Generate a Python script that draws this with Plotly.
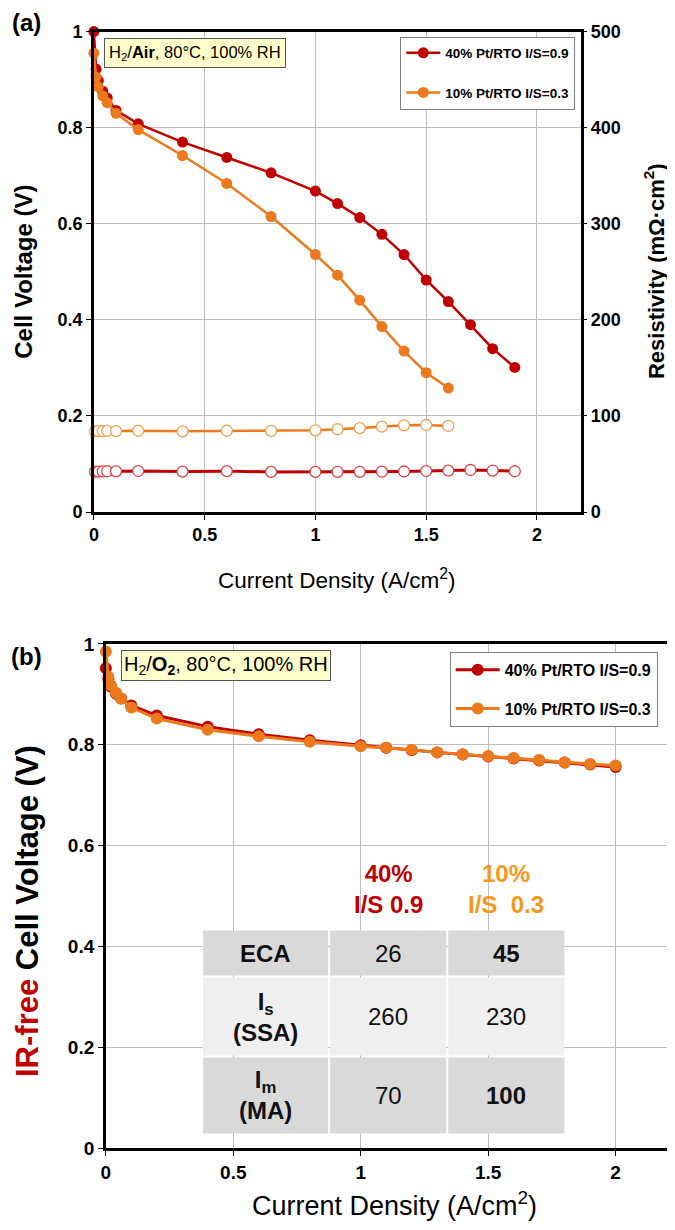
import plotly.graph_objects as go

# ---------------- data ----------------
# (a) H2/Air polarization
x_red_air = [0, 0.01, 0.02, 0.04, 0.06, 0.1, 0.2, 0.4, 0.6, 0.8, 1.0, 1.1, 1.2, 1.3, 1.4, 1.5, 1.6, 1.7, 1.8, 1.9]
v_red_air = [1.0, 0.922, 0.898, 0.876, 0.862, 0.836, 0.808, 0.770, 0.738, 0.706, 0.668, 0.642, 0.613, 0.578, 0.536, 0.483, 0.438, 0.390, 0.340, 0.301]
x_or_air = [0, 0.01, 0.02, 0.04, 0.06, 0.1, 0.2, 0.4, 0.6, 0.8, 1.0, 1.1, 1.2, 1.3, 1.4, 1.5, 1.6]
v_or_air = [0.955, 0.905, 0.885, 0.866, 0.852, 0.830, 0.796, 0.742, 0.684, 0.615, 0.536, 0.493, 0.441, 0.386, 0.335, 0.290, 0.258]

# (a) resistivity (mOhm cm2)
x_red_res = [0.005, 0.02, 0.04, 0.06, 0.1, 0.2, 0.4, 0.6, 0.8, 1.0, 1.1, 1.2, 1.3, 1.4, 1.5, 1.6, 1.7, 1.8, 1.9]
r_red = [42.0, 42.1, 42.3, 42.5, 42.4, 42.7, 42.1, 42.6, 41.8, 41.8, 41.9, 41.9, 42.0, 42.2, 42.7, 43.1, 43.8, 43.2, 42.5]
x_or_res = [0.005, 0.02, 0.04, 0.06, 0.1, 0.2, 0.4, 0.6, 0.8, 1.0, 1.1, 1.2, 1.3, 1.4, 1.5, 1.6]
r_or = [84.0, 84.2, 84.3, 84.5, 84.3, 84.6, 84.0, 84.6, 84.5, 85.1, 86.2, 87.3, 88.9, 90.3, 90.6, 89.6]

# (b) H2/O2 IR-free polarization
x_o2 = [0, 0.01, 0.02, 0.04, 0.06, 0.1, 0.2, 0.4, 0.6, 0.8, 1.0, 1.1, 1.2, 1.3, 1.4, 1.5, 1.6, 1.7, 1.8, 1.9, 2.0]
v_red_o2 = [0.952, 0.930, 0.915, 0.901, 0.892, 0.878, 0.858, 0.836, 0.821, 0.809, 0.799, 0.794, 0.789, 0.785, 0.781, 0.777, 0.773, 0.769, 0.765, 0.761, 0.756]
v_or_o2 = [0.985, 0.935, 0.918, 0.903, 0.892, 0.874, 0.852, 0.830, 0.817, 0.806, 0.797, 0.794, 0.790, 0.785, 0.781, 0.778, 0.774, 0.770, 0.765, 0.762, 0.759]

series_names = ["40% Pt/RTO I/S=0.9", "10% Pt/RTO I/S=0.3"]

# table
table_rows = ["ECA", "I<sub>s</sub><br>(SSA)", "I<sub>m</sub><br>(MA)"]
table_40 = ["26", "260", "70"]
table_10 = ["<b>45</b>", "230", "<b>100</b>"]
table_heads = ["40%<br>I/S 0.9", "10%<br>I/S  0.3"]

x_ticks = [0, 0.5, 1, 1.5, 2]
y_ticks = [0, 0.2, 0.4, 0.6, 0.8, 1.0]
r_ticks = [0, 100, 200, 300, 400, 500]

# ---------------- style ----------------
RED = "#C00000"
ORANGE = "#EB7A1E"
RED_OPEN = "#D9434A"
OR_OPEN = "#F0A050"
HEAD_OR = "#F7981D"
FONT = "Liberation Sans, Arial, sans-serif"
W, H = 675, 1230


def PX(x):
    return (x - 10.5) / W


def PY(y):
    return 1 - ((y - 16.4) / 0.984) / H


fig = go.Figure()

# ---- panel (a) ----
fig.add_trace(go.Scatter(x=x_red_air, y=v_red_air, mode="lines+markers", name=series_names[0],
                         line=dict(color=RED, width=2.5), marker=dict(color=RED, size=11),
                         cliponaxis=False,
                         xaxis="x", yaxis="y", legend="legend", legendgroup="a1"))
fig.add_trace(go.Scatter(x=x_or_air, y=v_or_air, mode="lines+markers", name=series_names[1],
                         line=dict(color=ORANGE, width=2.5), marker=dict(color=ORANGE, size=11),
                         cliponaxis=False,
                         xaxis="x", yaxis="y", legend="legend", legendgroup="a2"))
fig.add_trace(go.Scatter(x=x_red_res, y=r_red, mode="lines+markers", showlegend=False,
                         line=dict(color=RED, width=3), cliponaxis=False,
                         marker=dict(color="white", size=11, line=dict(color=RED_OPEN, width=1.3)),
                         xaxis="x", yaxis="y3"))
fig.add_trace(go.Scatter(x=x_or_res, y=r_or, mode="lines+markers", showlegend=False,
                         line=dict(color=ORANGE, width=2.5), cliponaxis=False,
                         marker=dict(color="white", size=11, line=dict(color=OR_OPEN, width=1.3)),
                         xaxis="x", yaxis="y3"))

# ---- panel (b) ----
fig.add_trace(go.Scatter(x=x_o2, y=v_red_o2, mode="lines+markers", name=series_names[0],
                         line=dict(color=RED, width=3), marker=dict(color=RED, size=12),
                         cliponaxis=False,
                         xaxis="x2", yaxis="y2", legend="legend2", legendgroup="b1"))
fig.add_trace(go.Scatter(x=x_o2, y=v_or_o2, mode="lines+markers", name=series_names[1],
                         line=dict(color=ORANGE, width=3), marker=dict(color=ORANGE, size=12),
                         cliponaxis=False,
                         xaxis="x2", yaxis="y2", legend="legend2", legendgroup="b2"))


def axis_common(fs):
    return dict(showline=True, linecolor="black", linewidth=2.5, mirror=True,
                showgrid=True, gridcolor="#BDBDBD", gridwidth=1, zeroline=False,
                ticks="outside", ticklen=5, tickwidth=1.2, tickcolor="black",
                tickfont=dict(family=FONT, size=fs, color="black", weight="bold"))


fig.update_layout(
    width=W, height=H, autosize=False,
    margin=dict(l=0, r=0, t=0, b=0),
    paper_bgcolor="white", plot_bgcolor="white",
    font=dict(family=FONT, color="black"),
    xaxis=dict(domain=[PX(92), PX(583)], range=[0, 2.2], tickvals=x_ticks, anchor="y", **axis_common(18)),
    yaxis=dict(domain=[PY(511), PY(30)], range=[0, 1.0], tickvals=y_ticks, anchor="x", **axis_common(18)),
    yaxis3=dict(overlaying="y", side="right", anchor="x", range=[0, 500], tickvals=r_ticks,
                showgrid=False, zeroline=False, showline=False, ticks="outside", ticklen=5,
                tickwidth=1.2, tickcolor="black",
                tickfont=dict(family=FONT, size=18, color="black", weight="bold")),
    xaxis2=dict(domain=[PX(104), PX(669)], range=[0, 2.2], tickvals=x_ticks, anchor="y2", **axis_common(19)),
    yaxis2=dict(domain=[PY(1148), PY(643)], range=[0, 1.0], tickvals=y_ticks, anchor="x2", **axis_common(19)),
    legend=dict(x=PX(577), y=PY(35), xanchor="right", yanchor="top",
                bgcolor="white", bordercolor="#7F7F7F", borderwidth=1,
                font=dict(family=FONT, size=13.5, color="black", weight="bold"),
                traceorder="grouped", tracegroupgap=19, itemwidth=34),
    legend2=dict(x=PX(660), y=PY(651), xanchor="right", yanchor="top",
                 bgcolor="white", bordercolor="#7F7F7F", borderwidth=1,
                 font=dict(family=FONT, size=16, color="black", weight="bold"),
                 traceorder="grouped", tracegroupgap=15, itemwidth=44),
    showlegend=True,
)


def A(text, x, y, size, color="black", angle=0, **kw):
    d = dict(text=text, x=PX(x), y=PY(y), xref="paper", yref="paper", xanchor="center",
             yanchor="middle", showarrow=False, textangle=angle,
             font=dict(family=FONT, size=size, color=color))
    d.update(kw)
    return d


ann = []
# panel labels
ann.append(A("<b>(a)</b>", 24, 21, 24))
ann.append(A("<b>(b)</b>", 24, 656, 24))
# condition boxes
ann.append(dict(text="H<sub>2</sub>/<b>Air</b>, 80°C, 100% RH", x=PX(102), y=PY(36),
                xref="paper", yref="paper", xanchor="left", yanchor="top", showarrow=False,
                font=dict(family=FONT, size=16.5), bgcolor="#FFFFCC", bordercolor="#555555",
                borderwidth=1, borderpad=4))
ann.append(dict(text="H<sub>2</sub>/<b>O<sub>2</sub></b>, 80°C, 100% RH", x=PX(119), y=PY(649),
                xref="paper", yref="paper", xanchor="left", yanchor="top", showarrow=False,
                font=dict(family=FONT, size=20), bgcolor="#FFFFCC", bordercolor="#555555",
                borderwidth=1, borderpad=2))
# axis titles
ann.append(A("<b>Cell Voltage (V)</b>", 21, 270, 24, angle=-90))
ann.append(A("<b>Resistivity (mΩ·cm<sup>2</sup>)</b>", 657, 270, 22, angle=-90))
ann.append(A("Current Density (A/cm<sup>2</sup>)", 337, 578, 22.5))
ann.append(A("<b><span style='color:#C00000'>IR-free</span> Cell Voltage (V)</b>", 25, 910, 31, angle=-90))
ann.append(A("Current Density (A/cm<sup>2</sup>)", 395, 1204, 27))

# table
shapes = []
col_edges = [(202, 328), (330, 447), (449, 566)]
row_edges = [(930, 975), (977, 1055), (1057, 1133)]
row_fill = ["#D9D9D9", "#EFEFEF", "#D9D9D9"]
for ri, (y0, y1) in enumerate(row_edges):
    for (x0, x1) in col_edges:
        shapes.append(dict(type="rect", xref="paper", yref="paper", x0=PX(x0), x1=PX(x1),
                           y0=PY(y1), y1=PY(y0), fillcolor=row_fill[ri], line=dict(width=0),
                           layer="above"))
for ri, (y0, y1) in enumerate(row_edges):
    yc = (y0 + y1) / 2
    cells = ["<b>" + table_rows[ri] + "</b>", table_40[ri], table_10[ri]]
    for ci, (x0, x1) in enumerate(col_edges):
        ann.append(A(cells[ci], (x0 + x1) / 2, yc, 24, color="#111111"))
head_cols = [RED, HEAD_OR]
for ci in range(2):
    x0, x1 = col_edges[ci + 1]
    ann.append(A("<b>" + table_heads[ci] + "</b>", (x0 + x1) / 2, 888, 24, color=head_cols[ci]))

fig.update_layout(annotations=ann, shapes=shapes)
fig.write_html("out.html")
